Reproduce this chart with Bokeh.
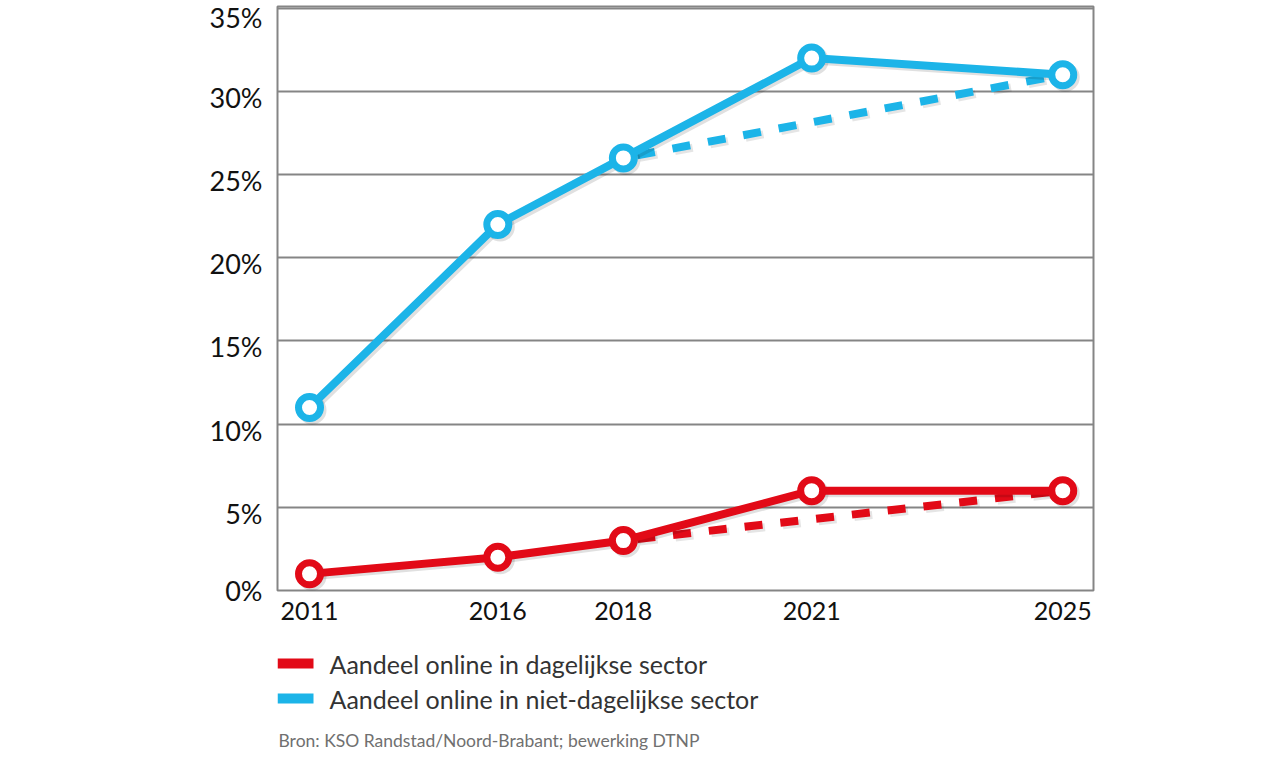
from bokeh.plotting import figure
from bokeh.models import FixedTicker, Range1d
from bokeh.layouts import column
from bokeh.core.properties import value
from bokeh.embed import file_html
from bokeh.resources import INLINE

# ---- data ----
years = ["2011", "2016", "2018", "2021", "2025"]
x_slot = [0, 3, 5, 8, 12]              # non-linear axis spacing used in the original chart
dagelijks = [1, 2, 3, 6, 6]            # % online, daily sector
niet_dagelijks = [11, 22, 26, 32, 31]  # % online, non-daily sector
trend_idx = [2, 4]                     # dashed trend from 2018 to 2025
y_ticks = [0, 5, 10, 15, 20, 25, 30, 35]
y_labels = ["0%", "5%", "10%", "15%", "20%", "25%", "30%", "35%"]
legend_labels = ["Aandeel online in dagelijkse sector",
                 "Aandeel online in niet-dagelijkse sector"]
source_text = "Bron: KSO Randstad/Noord-Brabant; bewerking DTNP"

RED = "#e20a17"
BLUE = "#1cb4e8"
GRID = "#858585"
FONT = "Lato"
LEFT, RIGHT = 277, 194
PX_PER_UNIT = 583 / 35.1

p = figure(width=1287, height=640, output_backend="svg", toolbar_location=None,
           x_range=Range1d(-0.51, 12.49), y_range=Range1d(0, 35.1),
           min_border_left=LEFT, min_border_right=RIGHT, min_border_top=6, min_border_bottom=50)

p.outline_line_color = GRID
p.outline_line_width = 2
p.background_fill_color = "white"
p.border_fill_color = "white"

p.xgrid.visible = False
p.ygrid.grid_line_color = GRID
p.ygrid.grid_line_width = 2
p.ygrid.ticker = FixedTicker(ticks=y_ticks)

p.xaxis.ticker = FixedTicker(ticks=x_slot)
p.xaxis.major_label_overrides = {s: y for s, y in zip(x_slot, years)}

# the original's y labels sit ~6 px below their grid lines
lab_shift = 6 / PX_PER_UNIT
label_pos = [t - lab_shift if t > 0 else t for t in y_ticks]
p.yaxis.ticker = FixedTicker(ticks=label_pos)
p.yaxis.major_label_overrides = {t: l for t, l in zip(label_pos, y_labels)}
for ax in (p.xaxis, p.yaxis):
    ax.axis_line_color = None
    ax.major_tick_line_color = None
    ax.minor_tick_line_color = None
    ax.major_tick_out = 0
    ax.major_tick_in = 0
    ax.major_label_text_font = FONT
    ax.major_label_text_color = "#111111"
p.xaxis.major_label_text_font_size = "25px"
p.yaxis.major_label_text_font_size = "27px"
p.xaxis.major_label_standoff = 11
p.yaxis.major_label_standoff = 15

# soft shadow offsets (2.5 px right / down expressed in data units)
dx, dy = 2.5 / 62.8, -2.5 / PX_PER_UNIT

def shifted(xs, ys):
    return [x + dx for x in xs], [y + dy for y in ys]

# dashed trend lines
for series, col in ((niet_dagelijks, BLUE), (dagelijks, RED)):
    tx = [x_slot[i] for i in trend_idx]
    ty = [series[i] for i in trend_idx]
    sx, sy = shifted(tx, ty)
    p.line(sx, sy, line_color="black", line_alpha=0.10, line_width=8,
           line_dash="18 18", line_dash_offset=-14)
    p.line(tx, ty, line_color=col, line_width=8, line_dash="18 18", line_dash_offset=-14)

# solid lines with markers
for series, col in ((niet_dagelijks, BLUE), (dagelijks, RED)):
    sx, sy = shifted(x_slot, series)
    p.line(sx, sy, line_color="black", line_alpha=0.12, line_width=8, line_join="round")
    p.scatter(sx, sy, size=22, fill_color=None, line_color="black", line_alpha=0.12, line_width=7)
    p.line(x_slot, series, line_color=col, line_width=8, line_join="round")
    p.scatter(x_slot, series, size=22, fill_color="white", line_color=col, line_width=7)

# ---- legend and source in a strip below the chart (data units = page pixels) ----
q = figure(width=1287, height=127, output_backend="svg", toolbar_location=None,
           x_range=Range1d(LEFT, 1287 - RIGHT), y_range=Range1d(127, 0),
           x_axis_location=None, y_axis_location=None,
           min_border_left=LEFT, min_border_right=RIGHT, min_border_top=0, min_border_bottom=0)
q.grid.visible = False
q.outline_line_color = None
q.background_fill_color = "white"
q.border_fill_color = "white"

q.rect(x=[295, 295], y=[23, 58], width=36, height=10, fill_color=[RED, BLUE], line_color=None)
q.text(x=[329, 329], y=[23, 58], text=legend_labels, text_font=value(FONT),
       text_font_size="25px", text_color="#333333", text_baseline="middle")
q.text(x=[278], y=[100], text=[source_text], text_font=value(FONT),
       text_font_size="17.5px", text_color="#707070", text_baseline="alphabetic")

layout = column(p, q, spacing=0)
open("out.html", "w").write(file_html(layout, INLINE))
